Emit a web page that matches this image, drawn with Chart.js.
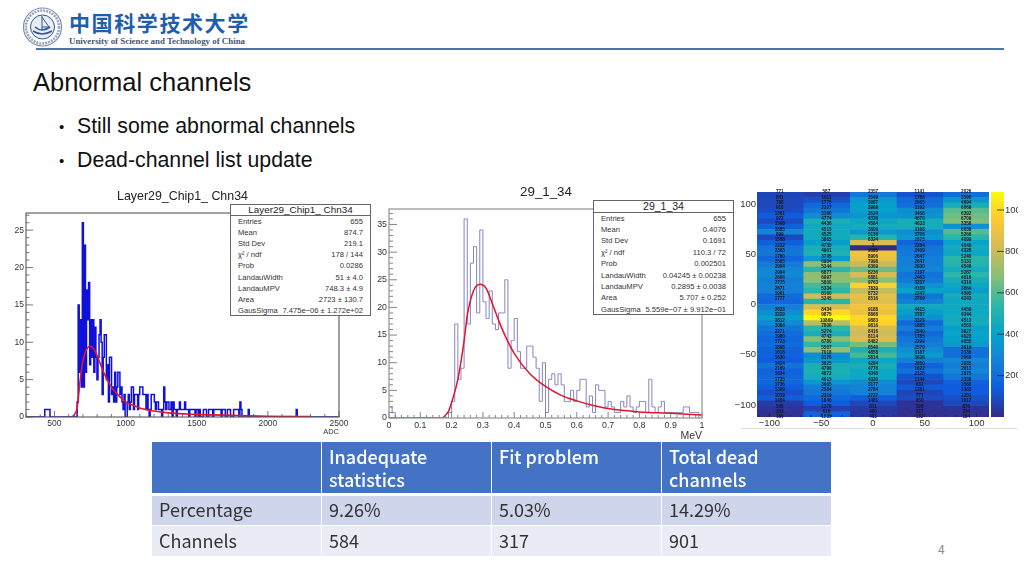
<!DOCTYPE html>
<html>
<head>
<meta charset="utf-8">
<script src="https://cdn.jsdelivr.net/npm/chart.js@4/dist/chart.umd.min.js"></script>
<style>
  html, body { margin: 0; padding: 0; background: #fff; }
  body { position: relative; width: 1024px; height: 576px; overflow: hidden; font-family: "Liberation Sans", sans-serif; color: #111; }
  .abs { position: absolute; }
  canvas { position: absolute; }
  h1 { position: absolute; left: 33px; top: 67px; margin: 0; font-size: 25.5px; font-weight: 400; line-height: 30px; white-space: nowrap; }
  .bullet { position: absolute; left: 59px; font-size: 21.3px; line-height: 24px; white-space: nowrap; }
  .bullet span { display: inline-block; width: 18px; font-size: 15px; vertical-align: 1px; }
  .plotTitle { position: absolute; width: 200px; text-align: center; color: #222; white-space: nowrap; }
  .stats { position: absolute; background: #fff; border: 1px solid #666; box-sizing: border-box; color: #333; }
  .stats .head { text-align: center; border-bottom: 1px solid #666; color: #222; white-space: nowrap; }
  .stats .row { position: absolute; white-space: nowrap; display: flex; justify-content: space-between; }
  table { position: absolute; left: 151px; top: 441px; width: 681px; height: 115px; border-collapse: collapse; table-layout: fixed;
    font-family: "Noto Sans CJK SC", sans-serif; font-size: 18px; line-height: 23px; }
  td { padding: 0 7px 2px; border: 1px solid #fff; vertical-align: middle; color: #333; }
  th { padding: 3px 7px 0; border: 1px solid #fff; border-bottom: 3px solid #fff; background: #4472c4; color: #fff; font-weight: 500; text-align: left; vertical-align: top; }
  tr.r1 td { background: #cfd5ea; }
  tr.r2 td { background: #e9ebf5; }
</style>
</head>
<body>
<svg class="abs" style="left:22px;top:6px" width="42" height="42" viewBox="0 0 42 42">
  <circle cx="20.5" cy="21" r="19" fill="#fff" stroke="#7f8db0" stroke-width="1.2"/>
  <circle cx="20.5" cy="21" r="16.5" fill="none" stroke="#9aa5c0" stroke-width="2.6" stroke-dasharray="2 1"/>
  <circle cx="20.5" cy="21" r="12" fill="#e8edf5" stroke="#2d5597" stroke-width="1"/>
  <path d="M11 25 Q20 31 30 25 M13 21 Q20 27 28 21" fill="none" stroke="#2d5597" stroke-width="1.6"/>
  <path d="M20 10 L20 24 M20 11 L27 21 L20 21" fill="none" stroke="#2d5597" stroke-width="1"/>
</svg>
<div class="abs" style="left:69px;top:8px;font:700 21px/28px 'Noto Sans CJK SC';letter-spacing:1.6px;color:#1f5ea8;white-space:nowrap">中国科学技术大学</div>
<div class="abs" style="left:69px;top:35px;font:700 8.9px/12px 'Liberation Serif';color:#4a5570;white-space:nowrap">University of Science and Technology of China</div>
<div class="abs" style="left:36px;top:47.5px;width:968px;height:2px;background:#4a72b5"></div>

<h1>Abnormal channels</h1>
<div class="bullet" style="top:114px"><span>•</span>Still some abnormal channels</div>
<div class="bullet" style="top:148px"><span>•</span>Dead-channel list update</div>

<canvas id="adcChart" width="365" height="255" style="left:0;top:185px"></canvas>
<canvas id="mevChart" width="351" height="265" style="left:370px;top:180px"></canvas>
<canvas id="heatChart" width="259" height="250" style="left:730px;top:185px"></canvas>
<canvas id="barChart" width="33" height="250" style="left:985px;top:185px"></canvas>
<div class="abs" style="left:740px;top:428px;width:278px;height:1px;background:#e2e2e2"></div>

<div class="plotTitle" style="left:82.5px;top:188px;font-size:12.4px;line-height:16px">Layer29_Chip1_ Chn34</div>
<div class="plotTitle" style="left:446px;top:184px;font-size:13.3px;line-height:16px">29_1_34</div>
<div class="stats" id="adcStats" style="left:230px;top:204px;width:141px;height:112px"></div>
<div class="stats" id="mevStats" style="left:593px;top:200px;width:141px;height:115px"></div>

<table id="deadTable"></table>
<div class="abs" style="left:938px;top:542px;font:12px/14px 'Noto Sans CJK SC';color:#8a8a8a">4</div>

<script>
// left histogram: ADC, 300 bins from 300 to 2500
const ADC_MIN = 300;
const ADC_MAX = 2500;
const adcCounts = [
  0, 0, 0, 0, 0, 0, 0, 0, 0, 0,
  0, 0, 0, 0, 0, 0, 0, 0, 1, 1,
  1, 1, 1, 0, 0, 0, 0, 0, 0, 0,
  0, 0, 0, 0, 0, 0, 0, 0, 0, 0,
  0, 0, 0, 0, 0, 0, 0, 0, 0, 2,
  15, 6, 13, 4, 26, 4, 23, 6, 17, 13,
  18, 7, 13, 8, 13, 6, 12, 8, 5, 8,
  11, 13, 10, 3, 8, 11, 11, 5, 7, 2,
  8, 8, 3, 4, 2, 6, 2, 4, 6, 6,
  3, 4, 2, 1, 3, 0, 0, 2, 3, 1,
  2, 4, 4, 1, 3, 3, 3, 1, 3, 4,
  4, 4, 3, 3, 3, 1, 3, 1, 0, 1,
  3, 3, 3, 2, 1, 2, 2, 1, 1, 1,
  0, 1, 4, 2, 1, 2, 2, 1, 1, 2,
  0, 2, 1, 1, 0, 1, 1, 2, 1, 1,
  1, 1, 2, 1, 1, 1, 0, 1, 1, 1,
  1, 1, 0, 1, 1, 0, 1, 0, 0, 0,
  1, 1, 1, 0, 0, 1, 1, 1, 1, 0,
  1, 1, 1, 1, 1, 1, 1, 0, 1, 1,
  1, 0, 0, 1, 1, 1, 0, 0, 0, 1,
  1, 1, 1, 1, 0, 2, 1, 0, 0, 0,
  0, 0, 0, 1, 0, 0, 0, 0, 0, 0,
  0, 0, 0, 0, 0, 0, 0, 0, 0, 0,
  0, 0, 0, 0, 0, 0, 0, 0, 0, 0,
  0, 0, 0, 0, 0, 0, 0, 0, 0, 0,
  0, 0, 0, 0, 0, 0, 0, 0, 0, 1,
  0, 0, 0, 0, 0, 0, 0, 0, 0, 0,
  0, 0, 0, 0, 0, 0, 0, 0, 0, 0,
  0, 0, 0, 0, 0, 0, 0, 0, 0, 0,
  0, 0, 0, 0, 0, 0, 0, 0, 0, 0
];
const adcFitX = [620, 640, 660, 680, 700, 720, 750, 780, 800, 850, 900, 950, 1000, 1050, 1100, 1200, 1300, 1500, 1800, 2000, 2300];
const adcFitY = [0, 0.3, 1.3, 4.8, 7.5, 8.8, 9.5, 9, 8.2, 5.8, 4, 2.9, 2, 1.6, 1.2, 0.8, 0.55, 0.35, 0.2, 0.1, 0.05];
const adcXTicks = [500, 1000, 1500, 2000, 2500];
const adcYTicks = [0, 5, 10, 15, 20, 25];

// middle histogram: MeV, bins of 0.01 from 0
const MEV_BIN = 0.01;
const mevCounts = [
  2, 1, 0, 0, 0, 0, 0, 0, 0, 0,
  0, 0, 0, 0, 0, 0, 0, 0, 0, 1,
  3, 17, 7, 9, 36, 17, 28, 31, 19, 34,
  21, 18, 23, 17, 16, 19, 19, 25, 9, 14,
  18, 12, 9, 9, 13, 13, 11, 9, 3, 10,
  1, 7, 8, 6, 8, 6, 3, 3, 5, 3,
  5, 7, 7, 2, 4, 1, 6, 5, 5, 2,
  3, 2, 1, 1, 3, 2, 4, 2, 1, 2,
  3, 3, 1, 7, 2, 1, 2, 3, 1, 1,
  1, 1, 1, 1, 2, 2, 1, 1, 1, 0
];
const mevFitX = [0, 0.17, 0.18, 0.19, 0.2, 0.22, 0.24, 0.25, 0.27, 0.29, 0.31, 0.33, 0.35, 0.37, 0.4, 0.45, 0.5, 0.55, 0.6, 0.65, 0.7, 0.8, 0.9, 1];
const mevFitY = [0, 0, 0.5, 1.2, 2.8, 7, 14, 18.5, 23, 24.2, 23.5, 20.7, 17.7, 15, 11.7, 8, 5.7, 4.1, 3.1, 2.3, 1.7, 1.1, 0.85, 0.55];
const mevXTicks = [0, 0.1, 0.2, 0.3, 0.4, 0.5, 0.6, 0.7, 0.8, 0.9, 1];
const mevYTicks = [0, 5, 10, 15, 20, 25, 30, 35];

// heat map: columns of cell values, top row first
const heatColumnsX = [-90, -45, 0, 45, 90];
const heatColA = [771, 841, 786, 916, 1361, 923, 1568, 2885, 899, 1508, 2232, 2363, 1780, 2505, 2904, 2994, 2606, 2715, 2671, 1961, 1777, 2633, 3229, 3812, 3084, 2271, 1980, 1723, 1898, 1618, 1630, 1424, 2189, 1634, 1735, 1736, 1399, 1019, 1454, 500, 303, 186];
const heatColB = [587, 1011, 1775, 2327, 3160, 4774, 4436, 4515, 4525, 3865, 4735, 4901, 3745, 6984, 5344, 6877, 6997, 5800, 5334, 8160, 5245, 8434, 9875, 10869, 7806, 5274, 4743, 6780, 5507, 7018, 3176, 3625, 4796, 4872, 4615, 3665, 2584, 2319, 1840, 1376, 616, 1535];
const heatColC = [2357, 3549, 3987, 3969, 3524, 4326, 4584, 3609, 5136, 8324, 1, 9095, 8906, 7998, 6369, 8236, 6881, 9763, 7839, 8732, 8516, 9188, 8868, 9883, 9816, 8416, 8114, 8482, 6540, 4858, 5814, 4284, 4776, 4348, 4330, 3177, 2784, 2727, 1481, 811, 460, 413];
const heatColD = [1141, 1786, 2065, 3192, 3468, 4670, 4633, 3168, 3706, 1675, 2284, 2409, 2647, 2647, 2930, 2197, 2463, 3337, 4109, 2247, 2769, 4415, 3787, 3329, 1885, 2540, 1785, 2299, 2579, 3187, 3636, 2650, 1622, 2125, 1144, 832, 1281, 771, 950, 198, 227, 132];
const heatColE = [2026, 3590, 4694, 6069, 6392, 6709, 3358, 6038, 5266, 4099, 4548, 4328, 5240, 5131, 4549, 5287, 4616, 4316, 3864, 4595, 4343, 4459, 4344, 4513, 4553, 3927, 4023, 4055, 3619, 2130, 2060, 2935, 2611, 2875, 2338, 1566, 1383, 1351, 1017, 876, 234, 184];
const heatTicks = [-100, -50, 0, 50, 100];
const HEAT_MAX = 10869;
const HEAT_EDGE = 112;
const paletteStops = ["#352a87", "#0f5cdd", "#1481d6", "#06a4ca", "#2eb7a4", "#87bf77", "#d1bb59", "#fec832", "#f9fb0e"];
const colorbarTicks = [2000, 4000, 6000, 8000, 10000];

const adcStatRows = [["Entries", "655"], ["Mean", "874.7"], ["Std Dev", "219.1"], ["χ² / ndf", "178 / 144"], ["Prob", "0.0286"], ["LandauWidth", "51 ± 4.0"], ["LandauMPV", "748.3 ± 4.9"], ["Area", "2723 ± 130.7"], ["GausSigma", "7.475e−06 ± 1.272e+02"]];
const mevStatRows = [["Entries", "655"], ["Mean", "0.4076"], ["Std Dev", "0.1691"], ["χ² / ndf", "110.3 / 72"], ["Prob", "0.002501"], ["LandauWidth", "0.04245 ± 0.00238"], ["LandauMPV", "0.2895 ± 0.0038"], ["Area", "5.707 ± 0.252"], ["GausSigma", "5.559e−07 ± 9.912e−01"]];
const tableHead = ["", "Inadequate statistics", "Fit problem", "Total dead channels"];
const tableRows = [["Percentage", "9.26%", "5.03%", "14.29%"], ["Channels", "584", "317", "901"]];

const FONT = '"Liberation Sans", sans-serif';
const TICK_COLOR = "#333";

function hexToRgb(hex) {
  return [1, 3, 5].map(i => parseInt(hex.slice(i, i + 2), 16));
}

function heatColor(v) {
  const t = Math.min(1, v / HEAT_MAX) * (paletteStops.length - 1);
  const i = Math.min(paletteStops.length - 2, Math.floor(t));
  const a = hexToRgb(paletteStops[i]);
  const b = hexToRgb(paletteStops[i + 1]);
  const c = a.map((x, k) => Math.round(x + (b[k] - x) * (t - i)));
  return `rgb(${c[0]},${c[1]},${c[2]})`;
}

// inward major/minor ticks and the box round the plot, ROOT style
const rootFrame = {
  id: "rootFrame",
  afterDatasetsDraw(chart, args, opts) {
    const { ctx, chartArea: area, scales } = chart;
    ctx.save();
    ctx.strokeStyle = opts.tickColor || "#555";
    ctx.lineWidth = 0.8;
    ctx.beginPath();
    if (opts.xMinor) {
      for (let n = Math.ceil(scales.x.min / opts.xMinor); n * opts.xMinor <= scales.x.max + 1e-9; n++) {
        const px = scales.x.getPixelForValue(n * opts.xMinor);
        const major = n % opts.xEvery === 0;
        ctx.moveTo(px, area.bottom);
        ctx.lineTo(px, area.bottom - (major ? opts.xMajorLen : opts.xMinorLen));
      }
    }
    if (opts.yMinor) {
      for (let n = 0; n * opts.yMinor <= scales.y.max; n++) {
        const py = scales.y.getPixelForValue(n * opts.yMinor);
        const major = n % opts.yEvery === 0;
        ctx.moveTo(area.left, py);
        ctx.lineTo(area.left + (major ? opts.yMajorLen : opts.yMinorLen), py);
      }
    }
    ctx.stroke();
    if (opts.frameColor) {
      ctx.strokeStyle = opts.frameColor;
      ctx.lineWidth = opts.frameWidth || 1;
      ctx.strokeRect(area.left, area.top, area.width, area.height);
    }
    ctx.restore();
  }
};

// small number printed on each heat map cell
const cellText = {
  id: "cellText",
  afterDatasetsDraw(chart) {
    const { ctx } = chart;
    ctx.save();
    ctx.font = `bold 4.6px ${FONT}`;
    ctx.fillStyle = "#14141e";
    ctx.textAlign = "center";
    ctx.textBaseline = "middle";
    chart.data.datasets.forEach((ds, d) => {
      chart.getDatasetMeta(d).data.forEach((bar, i) => {
        ctx.fillText(ds.data[i].v, bar.x, bar.y);
      });
    });
    ctx.restore();
  }
};

function fixedTicks(values) {
  return scale => { scale.ticks = values.map(value => ({ value })); };
}

function plainLabel(v) {
  return String(v).replace("-", "−");
}

function histSeries(start, bin, counts, color, width) {
  return {
    data: counts.map((y, i) => ({ x: start + (i + 0.5) * bin, y })),
    borderColor: color,
    borderWidth: width,
    stepped: "middle",
    pointRadius: 0,
    fill: false
  };
}

function fitSeries(xs, ys, width) {
  return {
    data: xs.map((x, i) => ({ x, y: ys[i] })),
    borderColor: "#e3142d",
    borderWidth: width,
    cubicInterpolationMode: "monotone",
    pointRadius: 0,
    fill: false
  };
}

function histOptions(cfg) {
  return {
    responsive: false,
    animation: false,
    layout: { padding: { left: 0, right: cfg.padRight, top: cfg.padTop, bottom: 0 } },
    plugins: {
      legend: { display: false },
      tooltip: { enabled: false },
      rootFrame: cfg.frame
    },
    scales: {
      x: {
        type: "linear",
        min: cfg.xMin,
        max: cfg.xMax,
        grid: { display: false, drawTicks: false },
        border: { display: false },
        afterBuildTicks: fixedTicks(cfg.xTicks),
        afterFit: s => { s.height = cfg.axisH; },
        ticks: { color: TICK_COLOR, padding: 2, maxRotation: 0, autoSkip: false, font: { family: FONT, size: cfg.tickSize }, callback: plainLabel },
        title: {
          display: true,
          text: cfg.xTitle,
          align: "end",
          color: TICK_COLOR,
          font: { family: FONT, size: cfg.xTitleSize },
          padding: { top: 0, bottom: cfg.xTitleBottom }
        }
      },
      y: {
        min: 0,
        max: cfg.yMax,
        grid: { display: false, drawTicks: false },
        border: { display: false },
        afterBuildTicks: fixedTicks(cfg.yTicks),
        afterFit: s => { s.width = cfg.axisW; },
        ticks: { color: TICK_COLOR, padding: 2, autoSkip: false, font: { family: FONT, size: cfg.tickSize }, callback: plainLabel }
      }
    }
  };
}

new Chart(document.getElementById("adcChart"), {
  type: "line",
  plugins: [rootFrame],
  data: {
    datasets: [
      fitSeries(adcFitX, adcFitY, 1.6),
      histSeries(ADC_MIN, (ADC_MAX - ADC_MIN) / adcCounts.length, adcCounts, "#1010dc", 1.5)
    ]
  },
  options: histOptions({
    padTop: 28, padRight: 26, xMin: ADC_MIN, xMax: ADC_MAX, yMax: 27.3,
    xTicks: adcXTicks, yTicks: adcYTicks, axisH: 23, axisW: 26, tickSize: 8.5,
    xTitle: "ADC", xTitleSize: 7.5, xTitleBottom: 4,
    frame: { frameColor: "#555", frameWidth: 1.1, xMinor: 100, xEvery: 5, xMajorLen: 6, xMinorLen: 3, yMinor: 1, yEvery: 5, yMajorLen: 7, yMinorLen: 3.5 }
  })
});

new Chart(document.getElementById("mevChart"), {
  type: "line",
  plugins: [rootFrame],
  data: {
    datasets: [
      fitSeries(mevFitX, mevFitY, 1.5),
      histSeries(0, MEV_BIN, mevCounts, "#8585c4", 1)
    ]
  },
  options: histOptions({
    padTop: 29, padRight: 19, xMin: 0, xMax: 1, yMax: 37.8,
    xTicks: mevXTicks, yTicks: mevYTicks, axisH: 27, axisW: 19, tickSize: 8.8,
    xTitle: "MeV", xTitleSize: 10.5, xTitleBottom: 3,
    frame: { frameColor: "#999", frameWidth: 1.3, tickColor: "#666", xMinor: 0.02, xEvery: 5, xMajorLen: 6, xMinorLen: 3, yMinor: 1, yEvery: 5, yMajorLen: 8, yMinorLen: 4 }
  })
});

const heatColumns = [heatColA, heatColB, heatColC, heatColD, heatColE];
const rowHeight = 2 * HEAT_EDGE / heatColA.length;

new Chart(document.getElementById("heatChart"), {
  type: "bar",
  plugins: [rootFrame, cellText],
  data: {
    datasets: heatColumns.map((col, c) => ({
      data: col.map((v, r) => ({
        x: heatColumnsX[c],
        y: [HEAT_EDGE - (r + 1) * rowHeight, HEAT_EDGE - r * rowHeight],
        v
      })),
      backgroundColor: col.map(heatColor),
      borderWidth: 0,
      borderSkipped: false,
      grouped: false,
      barPercentage: 1,
      categoryPercentage: 1
    }))
  },
  options: {
    responsive: false,
    animation: false,
    layout: { padding: { top: 7, right: 0, left: 0, bottom: 0 } },
    plugins: {
      legend: { display: false },
      tooltip: { enabled: false },
      rootFrame: { tickColor: "#223", xMinor: 10, xEvery: 5, xMajorLen: 4, xMinorLen: 2 }
    },
    scales: {
      x: {
        type: "linear",
        min: -HEAT_EDGE,
        max: HEAT_EDGE,
        offset: false,
        grid: { display: false, drawTicks: false },
        border: { display: false },
        afterBuildTicks: fixedTicks(heatTicks),
        afterFit: s => { s.height = 18; },
        ticks: { color: TICK_COLOR, padding: 1, maxRotation: 0, autoSkip: false, font: { family: FONT, size: 9.5 }, callback: plainLabel }
      },
      y: {
        min: -HEAT_EDGE,
        max: HEAT_EDGE,
        grid: { display: false, drawTicks: false },
        border: { display: false },
        afterBuildTicks: fixedTicks(heatTicks),
        afterFit: s => { s.width = 27; },
        ticks: { color: TICK_COLOR, padding: 1, autoSkip: false, font: { family: FONT, size: 9.5 }, callback: plainLabel }
      }
    }
  }
});

new Chart(document.getElementById("barChart"), {
  type: "bar",
  plugins: [{
    id: "barTicks",
    afterDatasetsDraw(chart) {
      const { ctx, chartArea: area, scales } = chart;
      ctx.save();
      ctx.strokeStyle = "#223";
      ctx.lineWidth = 0.8;
      ctx.beginPath();
      colorbarTicks.forEach(v => {
        const py = scales.y.getPixelForValue(v);
        ctx.moveTo(area.right, py);
        ctx.lineTo(area.right - 7, py);
      });
      ctx.stroke();
      ctx.restore();
    }
  }],
  data: {
    labels: [""],
    datasets: [{
      data: [[0, HEAT_MAX]],
      backgroundColor: ctx => {
        const area = ctx.chart.chartArea;
        if (!area) return paletteStops[0];
        const g = ctx.chart.ctx.createLinearGradient(0, area.bottom, 0, area.top);
        paletteStops.forEach((c, i) => g.addColorStop(i / (paletteStops.length - 1), c));
        return g;
      },
      borderWidth: 0,
      barPercentage: 1,
      categoryPercentage: 1
    }]
  },
  options: {
    responsive: false,
    animation: false,
    layout: { padding: { top: 7, left: 6, right: 0, bottom: 0 } },
    plugins: { legend: { display: false }, tooltip: { enabled: false } },
    scales: {
      x: {
        display: true,
        grid: { display: false, drawTicks: false },
        border: { display: false },
        ticks: { display: false },
        afterFit: s => { s.height = 18; }
      },
      y: {
        position: "right",
        min: 0,
        max: HEAT_MAX,
        grid: { display: false, drawTicks: false },
        border: { display: false },
        afterBuildTicks: fixedTicks(colorbarTicks),
        afterFit: s => { s.width = 14; },
        ticks: { color: TICK_COLOR, padding: 1, autoSkip: false, font: { family: FONT, size: 9.5 }, callback: plainLabel }
      }
    }
  }
});

function fillStats(id, title, rows, cfg) {
  const box = document.getElementById(id);
  const head = document.createElement("div");
  head.className = "head";
  head.textContent = title;
  head.style.font = `${cfg.titleSize}px/${cfg.headH}px ${FONT}`;
  head.style.height = cfg.headH + "px";
  box.appendChild(head);
  rows.forEach((r, i) => {
    const row = document.createElement("div");
    row.className = "row";
    row.style.left = "7px";
    row.style.right = "7px";
    row.style.top = cfg.first + i * cfg.step + "px";
    row.style.font = `${cfg.size}px/10px ${FONT}`;
    row.innerHTML = `<span>${r[0]}</span><span>${r[1]}</span>`;
    box.appendChild(row);
  });
}

fillStats("adcStats", "Layer29_Chip1_ Chn34", adcStatRows, { titleSize: 9.9, headH: 10, size: 7.6, first: 12, step: 11.1 });
fillStats("mevStats", "29_1_34", mevStatRows, { titleSize: 10.5, headH: 11, size: 7.6, first: 12.5, step: 11.4 });

const tbl = document.getElementById("deadTable");
tbl.innerHTML =
  `<tr style="height:53px">${tableHead.map(t => `<th>${t}</th>`).join("")}</tr>` +
  tableRows.map((r, i) => `<tr class="r${i + 1}" style="height:31px">${r.map(t => `<td>${t}</td>`).join("")}</tr>`).join("");
</script>
</body>
</html>
